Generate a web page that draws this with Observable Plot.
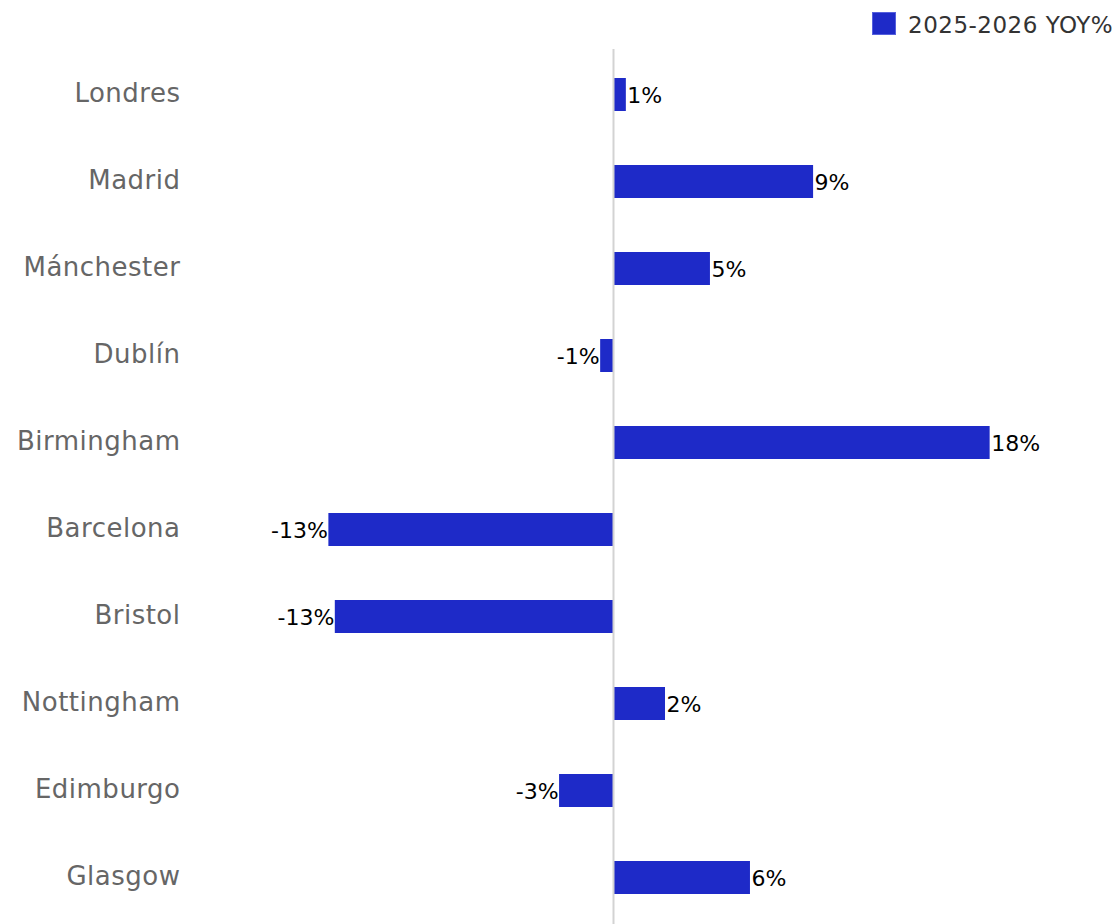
<!DOCTYPE html>
<html>
<head>
<meta charset="utf-8">
<script src="https://cdn.jsdelivr.net/npm/d3@7"></script>
<script src="https://cdn.jsdelivr.net/npm/@observablehq/plot@0.6"></script>
<style>
  html, body { margin: 0; padding: 0; background: #fff; }
  body { width: 1117px; height: 924px; overflow: hidden; font-family: "DejaVu Sans", sans-serif; }
  #legend { position: relative; height: 49px; }
  #legend .sw { position: absolute; left: 872px; top: 12px; width: 24px; height: 23px; background: #1e2ac8; box-sizing: border-box; border: 1px solid #5560dd; }
  #legend .lab { position: absolute; left: 908px; top: 10px; font-size: 23px; line-height: 30px; color: #333; white-space: nowrap; letter-spacing: 0.5px; }
  #chart g[aria-label="y-axis tick label"] text { letter-spacing: 0.5px; }
</style>
</head>
<body>
<div id="legend"><div class="sw"></div><div class="lab" id="series-name"></div></div>
<div id="chart"></div>
<script>
const cities = ["Londres", "Madrid", "Mánchester", "Dublín", "Birmingham", "Barcelona", "Bristol", "Nottingham", "Edimburgo", "Glasgow"];
const yoy = [0.6, 9.35, 4.53, -0.6, 17.6, -13.3, -13.0, 2.43, -2.52, 6.4];
const seriesName = "2025-2026 YOY%";
const barColor = "#1e2ac8";

document.getElementById("series-name").textContent = seriesName;

const data = cities.map((c, i) => ({city: c, value: yoy[i], label: Math.round(yoy[i]) + "%"}));

const chart = Plot.plot({
  width: 1117,
  height: 875,
  marginLeft: 185,
  marginRight: 76,
  marginTop: 0,
  marginBottom: 0,
  style: {fontFamily: "DejaVu Sans, sans-serif", background: "#fff"},
  x: {domain: [-20, 20], axis: null},
  y: {domain: cities, paddingInner: 0.62, paddingOuter: 0.31, label: null},
  marks: [
    Plot.axisY({tickSize: 0, tickPadding: 5, fontSize: 26, fill: "#666", label: null, dy: -1}),
    Plot.barX(data, {x: "value", y: "city", fill: barColor}),
    Plot.ruleX([0], {stroke: "#d3d3d3", strokeWidth: 2}),
    Plot.text(data.filter(d => d.value >= 0), {x: "value", y: "city", text: "label", textAnchor: "start", dx: 1, dy: 1, fontSize: 22, fill: "#000"}),
    Plot.text(data.filter(d => d.value < 0), {x: "value", y: "city", text: "label", textAnchor: "end", dx: -1, dy: 1, fontSize: 22, fill: "#000"})
  ]
});
document.getElementById("chart").appendChild(chart);
</script>
</body>
</html>
